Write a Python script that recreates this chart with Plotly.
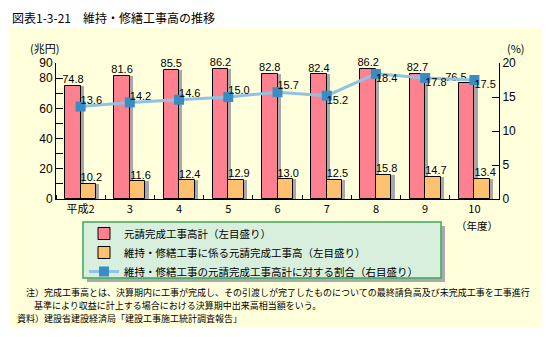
import plotly.graph_objects as go
import numpy as np

categories = ["平成2", "3", "4", "5", "6", "7", "8", "9", "10"]
total_works = [74.8, 81.6, 85.5, 86.2, 82.8, 82.4, 86.2, 82.7, 76.5]
repair_works = [10.2, 11.6, 12.4, 12.9, 13.0, 12.5, 15.8, 14.7, 13.4]
repair_ratio = [13.6, 14.2, 14.6, 15.0, 15.7, 15.2, 18.4, 17.8, 17.5]

W, H = 552, 337
L, R, T, B = 56, 499, 63, 199  # plot area in pixels


def px(x):
    return (x - L) / (R - L)


def py(y):
    return (B - y) / (B - T)


FONT_JP = "Noto Sans CJK JP"
FONT_NUM = "Liberation Sans, Arial, sans-serif"
RED = "#FF808E"
ORANGE = "#FFC070"
SHADOW = "#A8A8A8"
LINEC = "#8FC3E4"
MARK = "#3A8CC4"
BG = "#FFFFDC"

xs = np.arange(len(categories))
bw = 0.315
sh = 0.065

fig = go.Figure()
# shadows
fig.add_trace(go.Bar(x=xs, y=total_works, width=bw, offset=-bw + sh,
                     marker=dict(color=SHADOW, line=dict(width=0)),
                     showlegend=False, hoverinfo="skip"))
fig.add_trace(go.Bar(x=xs, y=total_works, width=bw, offset=-bw,
                     marker=dict(color=RED, line=dict(color="black", width=1)),
                     name="元請完成工事高計（左目盛り）"))
fig.add_trace(go.Bar(x=xs, y=repair_works, width=bw, offset=sh,
                     marker=dict(color=SHADOW, line=dict(width=0)),
                     showlegend=False, hoverinfo="skip"))
fig.add_trace(go.Bar(x=xs, y=repair_works, width=bw, offset=0,
                     marker=dict(color=ORANGE, line=dict(color="black", width=1)),
                     name="維持・修繕工事に係る元請完成工事高（左目盛り）"))

fig.add_trace(go.Scatter(x=xs, y=repair_ratio, yaxis="y2", mode="lines+markers",
                         line=dict(color=LINEC, width=3),
                         marker=dict(symbol="square", size=10, color=MARK),
                         name="維持・修繕工事の元請完成工事高計に対する割合（右目盛り）"))

# value labels
red_pos = ["top center"] * 8 + ["top left"]
fig.add_trace(go.Scatter(x=xs - bw / 2, y=total_works, mode="text",
                         text=[f"{v:.1f}" for v in total_works],
                         textposition=red_pos, cliponaxis=False,
                         textfont=dict(family=FONT_NUM, size=11, color="black"),
                         showlegend=False, hoverinfo="skip"))
fig.add_trace(go.Scatter(x=xs + bw / 2 + 0.06, y=repair_works, mode="text",
                         text=[f"{v:.1f}" for v in repair_works],
                         textposition="top center", cliponaxis=False,
                         textfont=dict(family=FONT_NUM, size=11, color="black"),
                         showlegend=False, hoverinfo="skip"))
ratio_pos = ["top right"] * 5 + ["bottom right"] * 4
fig.add_trace(go.Scatter(x=xs, y=repair_ratio, yaxis="y2", mode="text",
                         text=[f"{v:.1f}" for v in repair_ratio],
                         textposition=ratio_pos, cliponaxis=False,
                         textfont=dict(family=FONT_NUM, size=11, color="black"),
                         showlegend=False, hoverinfo="skip"))

shapes = [
    dict(type="rect", xref="paper", yref="paper", x0=px(10), x1=px(542),
         y0=py(327), y1=py(28), fillcolor=BG, line=dict(width=0), layer="below"),
    # legend shadow
    dict(type="rect", xref="paper", yref="paper", x0=px(87), x1=px(445),
         y0=py(282), y1=py(226), fillcolor="#AAAAAA", line=dict(width=0), layer="below"),
    dict(type="rect", xref="paper", yref="paper", x0=px(83), x1=px(441),
         y0=py(278), y1=py(222), fillcolor="#D8EFDD",
         line=dict(color="#3CAA5A", width=1.5), layer="below"),
]

note_lines = [
    ("注）完成工事高とは、決算期内に工事が完成し、その引渡しが完了したものについての最終請負高及び未完成工事を工事進行", 25, 292),
    ("基準により収益に計上する場合における決算期中出来高相当額をいう。", 33, 305),
    ("資料）建設省建設経済局「建設工事施工統計調査報告」", 16, 318),
]

annotations = [
    dict(text="図表1-3-21　維持・修繕工事高の推移", x=px(10), y=py(17), xref="paper", yref="paper",
         xanchor="left", yanchor="middle", showarrow=False,
         font=dict(family=FONT_JP, size=12, color="black")),
    dict(text="(兆円)", x=px(28), y=py(48), xref="paper", yref="paper",
         xanchor="left", yanchor="middle", showarrow=False,
         font=dict(family=FONT_JP, size=11, color="black")),
    dict(text="(%)", x=px(505), y=py(48), xref="paper", yref="paper",
         xanchor="left", yanchor="middle", showarrow=False,
         font=dict(family=FONT_JP, size=11, color="black")),
    dict(text="（年度）", x=px(477), y=py(225), xref="paper", yref="paper",
         xanchor="center", yanchor="middle", showarrow=False,
         font=dict(family=FONT_JP, size=10.5, color="black")),
]
for txt, xpix, ypix in note_lines:
    annotations.append(dict(text=txt, x=px(xpix), y=py(ypix), xref="paper", yref="paper",
                            xanchor="left", yanchor="middle", showarrow=False, borderpad=0,
                            font=dict(family=FONT_JP, size=9, color="black")))

fig.update_layout(
    width=W, height=H,
    margin=dict(l=L, r=W - R, t=T, b=H - B, pad=0),
    paper_bgcolor="white", plot_bgcolor="rgba(0,0,0,0)",
    barmode="overlay", bargap=0,
    showlegend=True,
    legend=dict(x=px(84), y=py(219), xanchor="left", yanchor="top",
                bgcolor="rgba(0,0,0,0)", borderwidth=0,
                font=dict(family=FONT_JP, size=10.5, color="black"),
                tracegroupgap=0, itemwidth=30, traceorder="normal"),
    shapes=shapes, annotations=annotations,
    xaxis=dict(range=[-0.5, len(categories) - 0.5], tickvals=xs, ticktext=categories,
               ticks="", showline=True, linecolor="black", linewidth=1,
               showgrid=False, zeroline=False,
               tickfont=dict(family=FONT_JP, size=11, color="black"),
               minor=dict(tick0=0.5, dtick=1, ticks="inside", ticklen=4,
                          tickcolor="black", showgrid=False)),
    yaxis=dict(range=[0, 90], tickvals=[0, 20, 40, 60, 80, 90],
               ticks="inside", ticklen=7, tickcolor="black",
               showline=True, linecolor="black", linewidth=1,
               showgrid=False, zeroline=False,
               tickfont=dict(family=FONT_NUM, size=12, color="black"),
               minor=dict(dtick=10, tick0=0, ticks="inside", ticklen=7,
                          tickcolor="black", showgrid=False)),
    yaxis2=dict(range=[0, 20], tickvals=[0, 5, 10, 15, 20], overlaying="y", side="right",
                ticks="inside", ticklen=7, tickcolor="black",
                showline=True, linecolor="black", linewidth=1,
                showgrid=False, zeroline=False,
                tickfont=dict(family=FONT_NUM, size=12, color="black")),
)

fig.write_html("out.html")
